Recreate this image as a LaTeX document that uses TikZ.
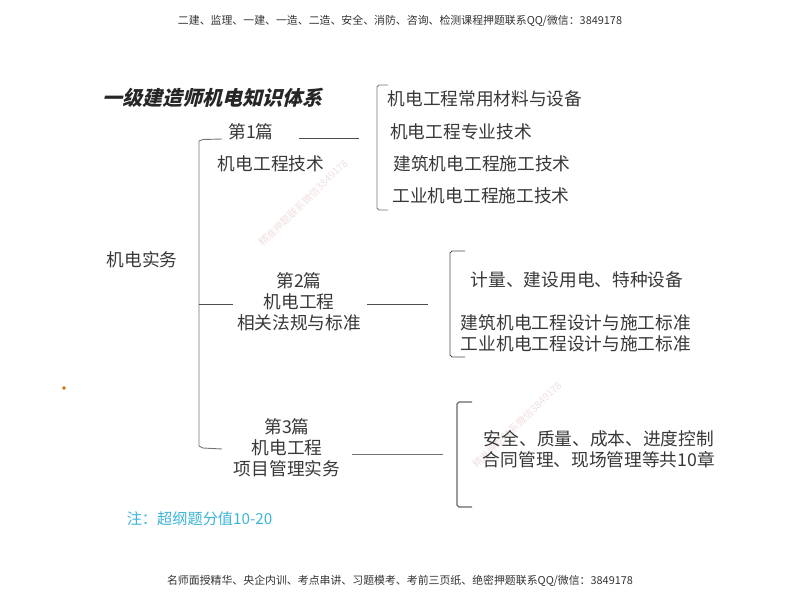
\documentclass[tikz,border=0pt]{standalone}
\usepackage{fontspec}
\setmainfont{Noto Sans CJK SC}
\begin{document}
\begin{tikzpicture}[x=1pt,y=-1pt,
  lab/.style={font=\fontsize{17.7}{21}\selectfont,text=black!78,inner sep=0pt,align=center,anchor=center,yshift=-0.8pt},
  head/.style={font=\fontsize{10.9}{13}\selectfont,text=black!80,inner sep=0pt,anchor=center},
  wm/.style={font=\fontsize{10}{12}\selectfont,text={rgb,255:red,240;green,222;blue,222},inner sep=0pt,rotate=44,anchor=center},
  ln/.style={draw=black!70,line width=0.9pt},
  gl/.style={draw=black!55,line width=0.9pt},
  thk/.style={draw=black!60,line width=1.2pt}]
\useasboundingbox (0,0) rectangle (800,600);
\node[wm] (w1) at (303,203) {精准押题联系微信3849178};
\node[wm] (w2) at (517,425) {精准押题联系微信3849178};
\node[head] (top) at (400,21) {二建、监理、一建、一造、二造、安全、消防、咨询、检测课程押题联系QQ/微信：3849178};
\node[head] (bot) at (400,581) {名师面授精华、央企内训、考点串讲、习题模考、考前三页纸、绝密押题联系QQ/微信：3849178};
\node[lab,font=\fontsize{20}{22}\selectfont\bfseries,xslant=0.25,text=black!85] (title) at (214,97) {一级建造师机电知识体系};
\node[lab] (root) at (142,259) {机电实务};
\node[lab] (p1a) at (251,131) {第1篇};
\node[lab] (p1b) at (271,163) {机电工程技术};
\node[lab] (p2) at (299,301) {第2篇\\机电工程\\相关法规与标准};
\node[lab] (p3) at (287,447) {第3篇\\机电工程\\项目管理实务};
\node[lab] (a1) at (485,98) {机电工程常用材料与设备};
\node[lab] (a2) at (461,131) {机电工程专业技术};
\node[lab] (a3) at (482,163) {建筑机电工程施工技术};
\node[lab] (a4) at (481,195) {工业机电工程施工技术};
\node[lab] (b1) at (577,279) {计量、建设用电、特种设备};
\node[lab] (b2) at (576,332.5) {建筑机电工程设计与施工标准\\工业机电工程设计与施工标准};
\node[lab] (c1) at (599,448) {安全、质量、成本、进度控制\\合同管理、现场管理等共10章};
\node[lab,font=\fontsize{15.2}{18}\selectfont,text={rgb,255:red,60;green,180;blue,215}] (note) at (199.5,518) {注：超纲题分值10-20};
\coordinate (q1) at (222,139); \coordinate (q4) at (222,449);
\coordinate (q5) at (199,304); \coordinate (q6) at (233,304);
\draw[gl] (q1) -- (203,139.5) -- (199,141) -- (199,446) -- (203,448) -- (q4);
\draw[ln] (q5) -- (q6);
\coordinate (l1a) at (299,138.5); \coordinate (l1b) at (359,138.5);
\coordinate (l2a) at (367,304); \coordinate (l2b) at (428,304);
\coordinate (l3a) at (352,454); \coordinate (l3b) at (443,454);
\draw[ln] (l1a) -- (l1b);
\draw[ln] (l2a) -- (l2b);
\draw[gl] (l3a) -- (l3b);
\draw[gl] (388,85) -- (379,85) -- (377,87) -- (377,208) -- (379,210) -- (388,210);
\draw[ln] (465,251) -- (452,251) -- (450,253) -- (450,355) -- (452,357) -- (465,357);
\draw[thk] (472,402) -- (459,402) -- (457,404) -- (457,505) -- (459,507) -- (472,507);
\fill[orange!80!black] (64,388) circle (1.8);
\end{tikzpicture}
\end{document}
